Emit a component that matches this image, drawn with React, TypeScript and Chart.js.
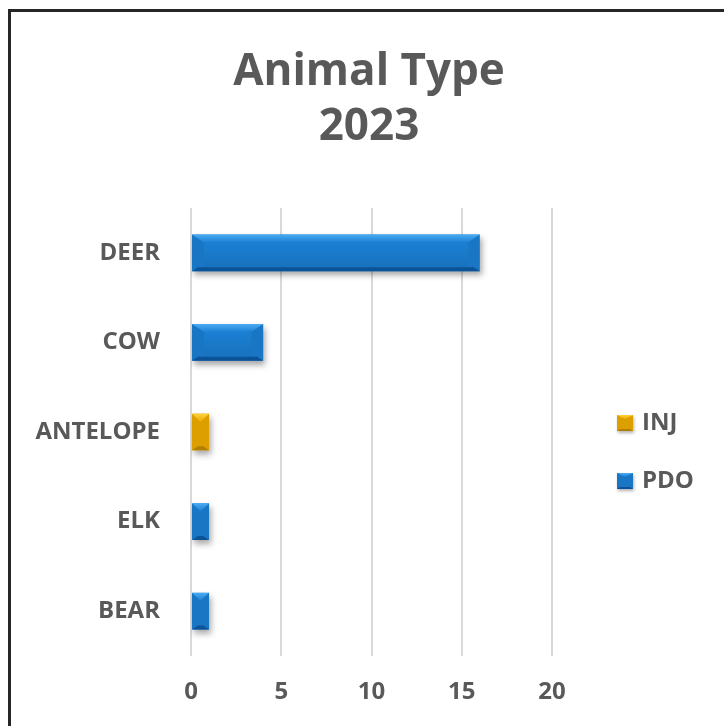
import React, { useEffect, useRef } from 'react';
import { Chart, registerables } from 'chart.js';

Chart.register(...registerables);

const titleLines = ['Animal Type', '2023'];
const categories = ['DEER', 'COW', 'ANTELOPE', 'ELK', 'BEAR'];
const seriesNames = ['INJ', 'PDO'];
const injValues = [0, 0, 1, 0, 0];
const pdoValues = [16, 4, 0, 1, 1];
const xMin = 0;
const xMax = 20;
const xStep = 5;

const FONT = "'Open Sans', 'DejaVu Sans', sans-serif";
const TEXT = '#595959';

type Pal = { main: string; light: string; dark: string };
const palettes: Pal[] = [
  { main: '#eeab00', light: '#fbd343', dark: '#b07f00' },
  { main: '#1b7fd3', light: '#4cacf2', dark: '#0b5296' },
];

function drawBevel(c: CanvasRenderingContext2D, left: number, top: number, right: number, bottom: number, pal: Pal) {
  const w = right - left;
  const h = bottom - top;
  if (w < 1 || h < 1) return;
  const bt = Math.min(8, h * 0.25, w / 2);
  const bb = Math.min(4, h * 0.12);
  const bx = Math.min(12, w / 2);
  const bx2 = Math.min(bb * 1.5, w / 2);
  c.save();
  c.fillStyle = 'rgba(0,0,0,0.07)';
  c.beginPath();
  c.moveTo(left, top);
  c.lineTo(left + bx, top + bt);
  c.lineTo(left + bx, bottom - bb);
  c.lineTo(left, bottom);
  c.closePath();
  c.fill();
  c.beginPath();
  c.moveTo(right, top);
  c.lineTo(right - bx, top + bt);
  c.lineTo(right - bx, bottom - bb);
  c.lineTo(right, bottom);
  c.closePath();
  c.fill();
  const g = c.createLinearGradient(0, top + bt, 0, bottom - bb);
  g.addColorStop(0, 'rgba(0,0,0,0.0)');
  g.addColorStop(1, 'rgba(0,0,0,0.10)');
  c.fillStyle = g;
  c.fillRect(left + bx, top + bt, Math.max(0, w - 2 * bx), Math.max(0, h - bt - bb));
  const gt = c.createLinearGradient(0, top, 0, top + bt);
  gt.addColorStop(0, pal.light);
  gt.addColorStop(1, pal.main);
  c.fillStyle = gt;
  c.beginPath();
  c.moveTo(left, top);
  c.lineTo(right, top);
  c.lineTo(right - bx, top + bt);
  c.lineTo(left + bx, top + bt);
  c.closePath();
  c.fill();
  c.fillStyle = pal.dark;
  c.beginPath();
  c.moveTo(left, bottom);
  c.lineTo(right, bottom);
  c.lineTo(right - bx2, bottom - bb);
  c.lineTo(left + bx2, bottom - bb);
  c.closePath();
  c.fill();
  c.restore();
}

const bevelPlugin = {
  id: 'bevel',
  beforeDatasetsDraw(chart: any) {
    const c = chart.ctx;
    c.save();
    c.shadowColor = 'rgba(0,0,0,0.35)';
    c.shadowBlur = 6;
    c.shadowOffsetX = 2;
    c.shadowOffsetY = 4;
  },
  afterDatasetsDraw(chart: any) {
    const c = chart.ctx;
    c.restore();
    chart.data.datasets.forEach((_ds: any, i: number) => {
      const meta = chart.getDatasetMeta(i);
      meta.data.forEach((el: any) => {
        const p = el.getProps(['x', 'y', 'base', 'height'], true);
        const left = Math.min(p.x, p.base);
        const right = Math.max(p.x, p.base);
        drawBevel(c, left, p.y - p.height / 2, right, p.y + p.height / 2, palettes[i]);
      });
    });
  },
};

const sideLegendPlugin = {
  id: 'sideLegend',
  afterDraw(chart: any) {
    const c: CanvasRenderingContext2D = chart.ctx;
    const a = chart.chartArea;
    const n = chart.data.datasets.length;
    const box = 16;
    const boxLeft = a.right + 65;
    const midY = (a.top + a.bottom) / 2 + 20;
    const gap = 58;
    chart.data.datasets.forEach((ds: any, i: number) => {
      const cy = midY + (i - (n - 1) / 2) * gap;
      const top = cy - box / 2;
      c.save();
      c.shadowColor = 'rgba(0,0,0,0.3)';
      c.shadowBlur = 3;
      c.shadowOffsetX = 1;
      c.shadowOffsetY = 2;
      c.fillStyle = palettes[i].main;
      c.fillRect(boxLeft, top, box, box);
      c.restore();
      drawBevel(c, boxLeft, top, boxLeft + box, top + box, palettes[i]);
      c.save();
      c.fillStyle = TEXT;
      c.font = `bold 24px ${FONT}`;
      c.textBaseline = 'middle';
      c.textAlign = 'left';
      c.fillText(ds.label, boxLeft + 25, cy);
      c.restore();
    });
  },
};

export default function App() {
  const ref = useRef<HTMLCanvasElement | null>(null);
  useEffect(() => {
    if (!ref.current) return;
    const chart = new Chart(ref.current, {
      type: 'bar',
      data: {
        labels: categories,
        datasets: [
          {
            label: seriesNames[0],
            data: injValues,
            backgroundColor: palettes[0].main,
            borderWidth: 0,
            barPercentage: 0.41,
            categoryPercentage: 1,
            xAxisID: 'x',
            yAxisID: 'y',
          },
          {
            label: seriesNames[1],
            data: pdoValues,
            backgroundColor: palettes[1].main,
            borderWidth: 0,
            barPercentage: 0.41,
            categoryPercentage: 1,
            xAxisID: 'x',
            yAxisID: 'y',
          },
        ],
      },
      options: {
        indexAxis: 'y',
        responsive: false,
        animation: false,
        devicePixelRatio: 1,
        layout: { padding: { left: 14, right: 0, top: 0, bottom: 19 } },
        plugins: {
          legend: { display: false },
          tooltip: { enabled: false },
          title: {
            display: true,
            text: titleLines,
            color: TEXT,
            font: { family: FONT, size: 44, weight: 'bold', lineHeight: 1.25 },
            padding: { top: 45, bottom: 53 },
          },
        },
        scales: {
          x: {
            type: 'linear',
            stacked: true,
            min: xMin,
            max: xMax,
            ticks: { stepSize: xStep, color: TEXT, font: { family: FONT, size: 24, weight: 'bold' }, padding: 22 },
            grid: { color: '#d9d9d9', lineWidth: 2, drawTicks: false },
            border: { display: false },
            afterFit: (s: any) => {
              s.height = 51;
            },
          },
          y: {
            type: 'category',
            stacked: true,
            position: 'left',
            ticks: { color: TEXT, font: { family: FONT, size: 24, weight: 'bold' }, padding: 31 },
            grid: { display: false, drawTicks: false },
            border: { display: false },
            afterFit: (s: any) => {
              s.width = 177;
            },
          },
          yLegendSpace: {
            type: 'category',
            position: 'right',
            display: true,
            ticks: { display: false },
            grid: { display: false, drawTicks: false },
            border: { display: false },
            afterFit: (s: any) => {
              s.width = 172;
            },
          },
        },
      } as any,
      plugins: [bevelPlugin, sideLegendPlugin],
    });
    return () => chart.destroy();
  }, []);

  return (
    <div style={{ position: 'fixed', left: 0, top: 0, width: 724, height: 726, overflow: 'hidden', background: '#fff' }}>
      <div
        style={{
          position: 'absolute',
          left: 8,
          top: 9,
          width: 800,
          height: 800,
          borderLeft: '3px solid #262626',
          borderTop: '3px solid #262626',
          boxSizing: 'border-box',
        }}
      />
      <canvas ref={ref} width={724} height={726} style={{ position: 'absolute', left: 0, top: 0, width: 724, height: 726 }} />
    </div>
  );
}
